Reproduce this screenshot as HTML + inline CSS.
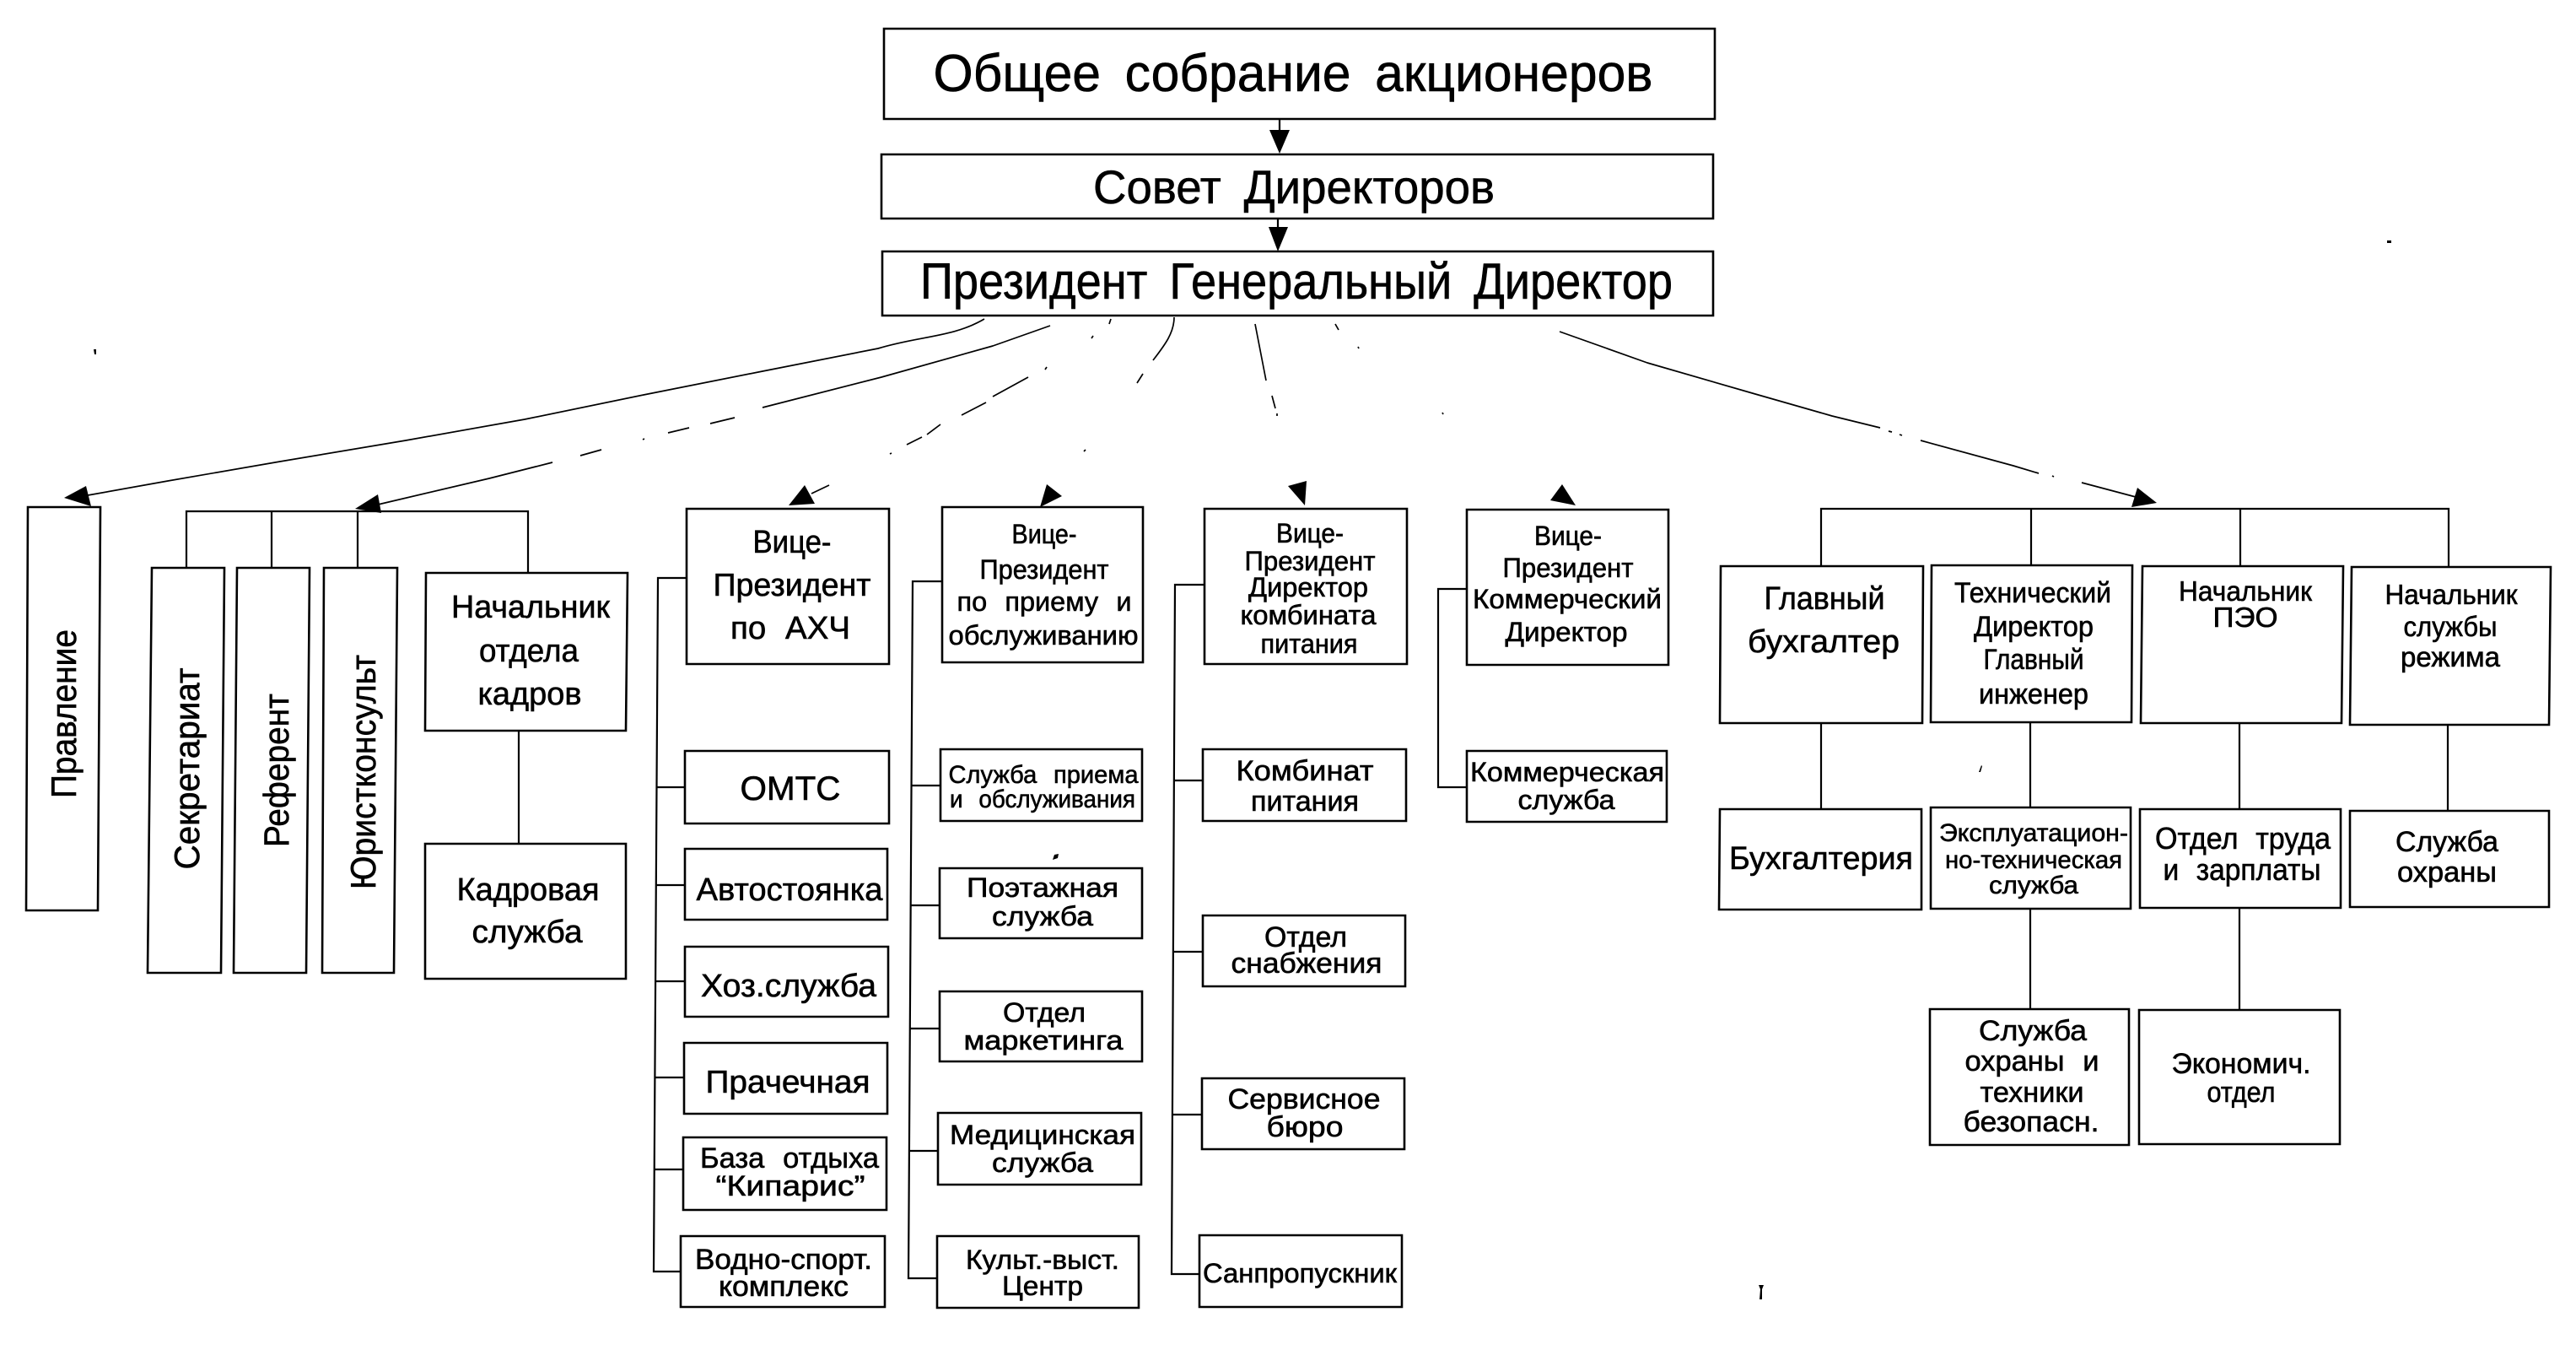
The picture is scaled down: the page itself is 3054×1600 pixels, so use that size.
<!DOCTYPE html>
<html><head><meta charset="utf-8"><style>
html,body{margin:0;padding:0;background:#fff}
svg{display:block}
text{font-family:"Liberation Sans","DejaVu Sans",sans-serif;fill:#000;stroke:#000;stroke-width:.6;text-anchor:middle}
.w{word-spacing:12px}
.b polygon{fill:none;stroke:#000;stroke-width:2.6}
.l path{fill:none;stroke:#000;stroke-width:2.2}
.c path{fill:none;stroke:#000;stroke-width:1.7;stroke-linejoin:round}
.a polygon{fill:#000}
</style></head><body>
<svg xmlns="http://www.w3.org/2000/svg" width="3054" height="1600" viewBox="0 0 3054 1600">
<g class="l">
<path d="M1517 141V160M1515 259V275"/>
<path d="M221 673V606H626V679M322 606V673M424 606V673M615 866V1000"/>
<path d="M814 685H780L775 1507H807M779 933H812M778 1049H812M777 1163H812M776 1277H811M776 1386H810"/>
<path d="M1117 689H1082L1077 1515H1111M1080 931H1115M1079 1073H1114M1079 1219H1114M1078 1364H1112"/>
<path d="M1428 693H1393L1389 1510H1422M1392 925H1426M1391 1128H1426M1390 1321H1425"/>
<path d="M1739 698H1705V933H1739"/>
<path d="M2159 671V603H2903V672M2408 603V670M2656 603V671M2159 857V959M2407 856V957M2407 1077V1196M2655 857V959M2655 1076V1197M2902 859V961"/>
</g>
<g class="c">
<path d="M1167 378L1110 404L1041 413L904 440L763 468L622 497L481 522L332 547L199 570L104 587" style="display:none"/>
<path d="M1167 378Q1110 410 1041 434L904 478L763 523L622 567" style="display:none"/>
<path d="M1167 378C1130 400 1090 398 1041 413L904 440L763 468L622 497L481 522L332 547L199 570L104 587"/>
<path d="M1245 386C1220 405 1200 416 1177 430L1045 447" style="display:none"/>
<path d="M1245 386L1177 410L1045 447L904 483M871 495L842 502M817 507L792 513M764 520L762 521M713 533L688 540M655 548L580 567L448 598"/>
<path d="M1317 378L1315 384M1296 398L1294 401M1241 435L1239 438M1219 447L1177 470M1169 477L1140 492M1115 503L1099 515M1093 518L1075 527M1057 537L1055 538M983 575L962 585"/>
<path d="M1392 376C1392 395 1380 410 1367 427M1355 443L1348 454M1287 533L1285 535"/>
<path d="M1488 384L1501 451M1508 469L1512 484M1514 490L1514 493"/>
<path d="M1583 384L1587 391M1610 411L1611 413M1710 489L1711 491"/>
<path d="M1849 393L1953 430L2081 467L2172 493L2229 507M2239 511L2243 512M2252 515L2255 516M2277 522L2387 552L2417 561M2433 564L2435 565M2468 572L2532 589"/>
</g>
<g class="a">
<polygon points="1517,182 1505,154 1529,154"/>
<polygon points="1515,298 1504,269 1527,269"/>
<polygon points="76,590 102,576 108,600"/>
<polygon points="421,603 448,586 452,608"/>
<polygon points="954,575 935,599 966,597"/>
<polygon points="1241,574 1259,588 1233,601"/>
<polygon points="1549,570 1527,576 1547,599"/>
<polygon points="1852,574 1838,593 1868,599"/>
<polygon points="2557,596 2534,578 2527,601"/>
<polygon points="1248,1019 1250,1013 1255,1012 1254,1017"/>
<polygon points="2346,915 2349,907 2350,908 2348,915"/>
<polygon points="2830,285 2835,285 2835,288 2830,288"/>
<polygon points="111,414 114,414 114,420 112,420"/>
<polygon points="2085,1523 2091,1523 2089,1528 2089,1540 2086,1540 2087,1528"/>
</g>
<g class="b">
<polygon points="1048,34 2033,34 2033,141 1048,141"/>
<polygon points="1045,183 2031,183 2031,259 1045,259"/>
<polygon points="1046,298 2031,298 2031,374 1046,374"/>
<polygon points="33,601 119,601 116,1079 31,1079"/>
<polygon points="180,673 266,673 262,1153 175,1153"/>
<polygon points="281,673 367,673 363,1153 277,1153"/>
<polygon points="384,673 471,673 467,1153 382,1153"/>
<polygon points="505,679 744,679 742,866 504,866"/>
<polygon points="504,1000 742,1000 742,1160 504,1160"/>
<polygon points="814,603 1054,603 1054,787 814,787"/>
<polygon points="812,890 1054,890 1054,976 812,976"/>
<polygon points="812,1006 1052,1006 1052,1090 812,1090"/>
<polygon points="812,1122 1053,1122 1053,1205 812,1205"/>
<polygon points="811,1236 1052,1236 1052,1320 811,1320"/>
<polygon points="810,1348 1051,1348 1051,1434 810,1434"/>
<polygon points="807,1465 1049,1465 1049,1549 807,1549"/>
<polygon points="1117,601 1355,601 1355,785 1117,785"/>
<polygon points="1115,888 1354,888 1354,973 1115,973"/>
<polygon points="1114,1029 1354,1029 1354,1112 1114,1112"/>
<polygon points="1114,1175 1354,1175 1354,1258 1114,1258"/>
<polygon points="1112,1319 1353,1319 1353,1404 1112,1404"/>
<polygon points="1111,1465 1350,1465 1350,1550 1111,1550"/>
<polygon points="1428,603 1668,603 1668,787 1428,787"/>
<polygon points="1426,888 1667,888 1667,973 1426,973"/>
<polygon points="1426,1085 1666,1085 1666,1169 1426,1169"/>
<polygon points="1425,1278 1665,1278 1665,1362 1425,1362"/>
<polygon points="1422,1464 1662,1464 1662,1549 1422,1549"/>
<polygon points="1739,604 1978,604 1978,788 1739,788"/>
<polygon points="1739,890 1976,890 1976,974 1739,974"/>
<polygon points="2040,671 2280,671 2279,857 2039,857"/>
<polygon points="2039,959 2278,959 2278,1078 2038,1078"/>
<polygon points="2290,670 2528,670 2527,856 2289,856"/>
<polygon points="2289,957 2526,957 2526,1077 2289,1077"/>
<polygon points="2288,1196 2524,1196 2524,1357 2288,1357"/>
<polygon points="2540,671 2778,671 2776,857 2538,857"/>
<polygon points="2537,959 2775,959 2775,1076 2537,1076"/>
<polygon points="2536,1197 2774,1197 2774,1356 2536,1356"/>
<polygon points="2788,672 3024,672 3022,859 2786,859"/>
<polygon points="2786,961 3022,961 3022,1075 2786,1075"/>
</g>
<g>
<text class="w" x="1533" y="108" font-size="62" textLength="853" lengthAdjust="spacingAndGlyphs">Общее собрание акционеров</text>
<text class="w" x="1534" y="241" font-size="56" textLength="476" lengthAdjust="spacingAndGlyphs">Совет Директоров</text>
<text class="w" x="1537" y="354" font-size="60" textLength="892" lengthAdjust="spacingAndGlyphs">Президент Генеральный Директор</text>

<text transform="translate(90,846) rotate(-90)" font-size="42" textLength="200" lengthAdjust="spacingAndGlyphs">Правление</text>
<text transform="translate(236,911) rotate(-90)" font-size="42" textLength="239" lengthAdjust="spacingAndGlyphs">Секретариат</text>
<text transform="translate(342,913) rotate(-90)" font-size="42" textLength="182" lengthAdjust="spacingAndGlyphs">Референт</text>
<text transform="translate(445,915) rotate(-90)" font-size="42" textLength="278" lengthAdjust="spacingAndGlyphs">Юристконсульт</text>

<text x="629" y="732" font-size="38" textLength="188" lengthAdjust="spacingAndGlyphs">Начальник</text>
<text x="627" y="784" font-size="38" textLength="118" lengthAdjust="spacingAndGlyphs">отдела</text>
<text x="628" y="835" font-size="38" textLength="123" lengthAdjust="spacingAndGlyphs">кадров</text>
<text x="626" y="1067" font-size="38" textLength="169" lengthAdjust="spacingAndGlyphs">Кадровая</text>
<text x="625" y="1117" font-size="38" textLength="131" lengthAdjust="spacingAndGlyphs">служба</text>

<text x="939" y="655" font-size="38" textLength="93" lengthAdjust="spacingAndGlyphs">Вице-</text>
<text x="939" y="706" font-size="38" textLength="187" lengthAdjust="spacingAndGlyphs">Президент</text>
<text class="w" x="937" y="757" font-size="38" textLength="142" lengthAdjust="spacingAndGlyphs">по АХЧ</text>
<text x="937" y="948" font-size="40" textLength="119" lengthAdjust="spacingAndGlyphs">ОМТС</text>
<text x="936" y="1067" font-size="38" textLength="221" lengthAdjust="spacingAndGlyphs">Автостоянка</text>
<text x="935" y="1181" font-size="38" textLength="208" lengthAdjust="spacingAndGlyphs">Хоз.служба</text>
<text x="934" y="1295" font-size="38" textLength="195" lengthAdjust="spacingAndGlyphs">Прачечная</text>
<text class="w" x="936" y="1384" font-size="34" textLength="212" lengthAdjust="spacingAndGlyphs">База отдыха</text>
<text x="937" y="1417" font-size="34" textLength="177" lengthAdjust="spacingAndGlyphs">“Кипарис”</text>
<text x="929" y="1504" font-size="34" textLength="210" lengthAdjust="spacingAndGlyphs">Водно-спорт.</text>
<text x="929" y="1536" font-size="34" textLength="154" lengthAdjust="spacingAndGlyphs">комплекс</text>

<text x="1238" y="644" font-size="32" textLength="77" lengthAdjust="spacingAndGlyphs">Вице-</text>
<text x="1238" y="686" font-size="32" textLength="153" lengthAdjust="spacingAndGlyphs">Президент</text>
<text class="w" x="1238" y="724" font-size="32" textLength="207" lengthAdjust="spacingAndGlyphs">по приему и</text>
<text x="1237" y="764" font-size="32" textLength="225" lengthAdjust="spacingAndGlyphs">обслуживанию</text>
<text class="w" x="1237" y="928" font-size="30" textLength="225" lengthAdjust="spacingAndGlyphs">Служба приема</text>
<text class="w" x="1236" y="957" font-size="30" textLength="220" lengthAdjust="spacingAndGlyphs">и обслуживания</text>
<text x="1236" y="1063" font-size="32" textLength="180" lengthAdjust="spacingAndGlyphs">Поэтажная</text>
<text x="1236" y="1097" font-size="32" textLength="120" lengthAdjust="spacingAndGlyphs">служба</text>
<text x="1238" y="1211" font-size="32" textLength="98" lengthAdjust="spacingAndGlyphs">Отдел</text>
<text x="1237" y="1244" font-size="32" textLength="189" lengthAdjust="spacingAndGlyphs">маркетинга</text>
<text x="1236" y="1356" font-size="32" textLength="220" lengthAdjust="spacingAndGlyphs">Медицинская</text>
<text x="1236" y="1389" font-size="32" textLength="120" lengthAdjust="spacingAndGlyphs">служба</text>
<text x="1236" y="1504" font-size="32" textLength="182" lengthAdjust="spacingAndGlyphs">Культ.-выст.</text>
<text x="1236" y="1535" font-size="32" textLength="96" lengthAdjust="spacingAndGlyphs">Центр</text>

<text x="1553" y="643" font-size="32" textLength="80" lengthAdjust="spacingAndGlyphs">Вице-</text>
<text x="1553" y="676" font-size="32" textLength="155" lengthAdjust="spacingAndGlyphs">Президент</text>
<text x="1551" y="707" font-size="32" textLength="142" lengthAdjust="spacingAndGlyphs">Директор</text>
<text x="1551" y="740" font-size="32" textLength="161" lengthAdjust="spacingAndGlyphs">комбината</text>
<text x="1552" y="774" font-size="32" textLength="115" lengthAdjust="spacingAndGlyphs">питания</text>
<text x="1547" y="925" font-size="34" textLength="163" lengthAdjust="spacingAndGlyphs">Комбинат</text>
<text x="1547" y="961" font-size="34" textLength="128" lengthAdjust="spacingAndGlyphs">питания</text>
<text x="1548" y="1122" font-size="34" textLength="98" lengthAdjust="spacingAndGlyphs">Отдел</text>
<text x="1549" y="1153" font-size="34" textLength="179" lengthAdjust="spacingAndGlyphs">снабжения</text>
<text x="1546" y="1314" font-size="34" textLength="181" lengthAdjust="spacingAndGlyphs">Сервисное</text>
<text x="1547" y="1347" font-size="34" textLength="91" lengthAdjust="spacingAndGlyphs">бюро</text>
<text x="1541" y="1520" font-size="32" textLength="230" lengthAdjust="spacingAndGlyphs">Санпропускник</text>

<text x="1859" y="646" font-size="32" textLength="80" lengthAdjust="spacingAndGlyphs">Вице-</text>
<text x="1859" y="684" font-size="32" textLength="155" lengthAdjust="spacingAndGlyphs">Президент</text>
<text x="1858" y="721" font-size="32" textLength="224" lengthAdjust="spacingAndGlyphs">Коммерческий</text>
<text x="1857" y="760" font-size="32" textLength="145" lengthAdjust="spacingAndGlyphs">Директор</text>
<text x="1858" y="926" font-size="32" textLength="230" lengthAdjust="spacingAndGlyphs">Коммерческая</text>
<text x="1857" y="959" font-size="32" textLength="115" lengthAdjust="spacingAndGlyphs">служба</text>

<text x="2163" y="722" font-size="38" textLength="143" lengthAdjust="spacingAndGlyphs">Главный</text>
<text x="2162" y="773" font-size="38" textLength="180" lengthAdjust="spacingAndGlyphs">бухгалтер</text>
<text x="2159" y="1030" font-size="38" textLength="218" lengthAdjust="spacingAndGlyphs">Бухгалтерия</text>

<text x="2410" y="714" font-size="34" textLength="186" lengthAdjust="spacingAndGlyphs">Технический</text>
<text x="2411" y="754" font-size="34" textLength="142" lengthAdjust="spacingAndGlyphs">Директор</text>
<text x="2411" y="793" font-size="34" textLength="119" lengthAdjust="spacingAndGlyphs">Главный</text>
<text x="2411" y="834" font-size="34" textLength="130" lengthAdjust="spacingAndGlyphs">инженер</text>
<text x="2411" y="997" font-size="30" textLength="224" lengthAdjust="spacingAndGlyphs">Эксплуатацион-</text>
<text x="2411" y="1029" font-size="30" textLength="210" lengthAdjust="spacingAndGlyphs">но-техническая</text>
<text x="2411" y="1059" font-size="30" textLength="106" lengthAdjust="spacingAndGlyphs">служба</text>
<text x="2410" y="1233" font-size="34" textLength="128" lengthAdjust="spacingAndGlyphs">Служба</text>
<text class="w" x="2409" y="1269" font-size="34" textLength="159" lengthAdjust="spacingAndGlyphs">охраны и</text>
<text x="2409" y="1306" font-size="34" textLength="123" lengthAdjust="spacingAndGlyphs">техники</text>
<text x="2408" y="1341" font-size="34" textLength="161" lengthAdjust="spacingAndGlyphs">безопасн.</text>

<text x="2662" y="712" font-size="33" textLength="158" lengthAdjust="spacingAndGlyphs">Начальник</text>
<text x="2662" y="743" font-size="33" textLength="77" lengthAdjust="spacingAndGlyphs">ПЭО</text>
<text class="w" x="2659" y="1006" font-size="36" textLength="208" lengthAdjust="spacingAndGlyphs">Отдел труда</text>
<text class="w" x="2658" y="1043" font-size="36" textLength="187" lengthAdjust="spacingAndGlyphs">и зарплаты</text>
<text x="2657" y="1272" font-size="34" textLength="165" lengthAdjust="spacingAndGlyphs">Экономич.</text>
<text x="2657" y="1306" font-size="34" textLength="81" lengthAdjust="spacingAndGlyphs">отдел</text>

<text x="2906" y="716" font-size="33" textLength="157" lengthAdjust="spacingAndGlyphs">Начальник</text>
<text x="2905" y="754" font-size="33" textLength="111" lengthAdjust="spacingAndGlyphs">службы</text>
<text x="2905" y="790" font-size="33" textLength="118" lengthAdjust="spacingAndGlyphs">режима</text>
<text x="2901" y="1009" font-size="34" textLength="122" lengthAdjust="spacingAndGlyphs">Служба</text>
<text x="2901" y="1045" font-size="34" textLength="118" lengthAdjust="spacingAndGlyphs">охраны</text>
</g>
</svg>
</body></html>
